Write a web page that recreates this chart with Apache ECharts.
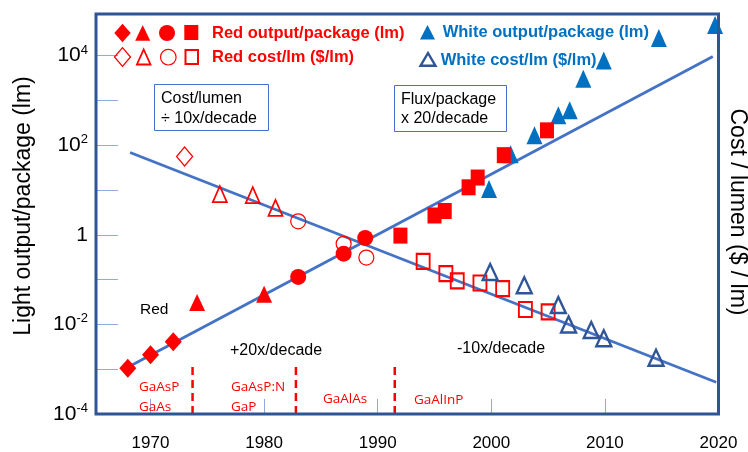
<!DOCTYPE html>
<html>
<head>
<meta charset="utf-8">
<script src="https://cdn.jsdelivr.net/npm/echarts@6/dist/echarts.min.js"></script>
<style>html,body{margin:0;padding:0;background:#fff;}#c{width:748px;height:452px;}</style>
</head>
<body>
<div id="c"></div>
<script>
// ---- data (year, value) ----
const redOutDiamond = [[1968, 0.00105], [1970, 0.0021], [1972, 0.0041]];
const redOutTriangle = [[1974.1, 0.031], [1980.0, 0.047]];
const redOutCircle = [[1983.0, 0.115], [1987.0, 0.38], [1988.9, 0.85]];
const redOutSquare = [[1992.0, 0.96], [1995.0, 2.7], [1995.9, 3.4], [1998.0, 11.5], [1998.8, 19], [2001.1, 60], [2004.9, 215]];

const redCostDiamond = [[1973.0, 56]];
const redCostTriangle = [[1976.1, 8.1], [1979.0, 7.7], [1981.0, 4.0]];
const redCostCircle = [[1983.0, 2.0], [1987.0, 0.63], [1989.0, 0.31]];
const redCostSquare = [[1994.0, 0.255], [1996.0, 0.136], [1997.0, 0.094], [1999.0, 0.084], [2001.0, 0.063], [2003.0, 0.0215], [2005.0, 0.019]];

const whiteOut = [[1999.8, 10.5], [2001.7, 63], [2003.8, 167], [2005.9, 464], [2006.9, 605], [2008.1, 3030], [2009.9, 7740], [2014.75, 24600], [2019.7, 48600]];
const whiteCost = [[1999.9, 0.148], [2002.9, 0.075], [2005.9, 0.027], [2006.8, 0.010], [2008.8, 0.0075], [2009.9, 0.0049], [2014.5, 0.0018]];

const fluxTrend = [[1968.0, 0.0011], [2019.5, 9600]];
const costTrend = [[1968.2, 69], [2019.8, 0.00051]];

const dividerYears = [1973.7, 1982.8, 1991.5];
const dividerTop = 0.00135;
const yMin = 1e-4;
const yMax = 85000;
const xMin = 1965.2;
const xMax = 2020;
const xTickYears = [1970, 1980, 1990, 2000, 2010];
const xLabelYears = [1970, 1980, 1990, 2000, 2010, 2020];

const RED = '#ff0000';
const BLUE = '#0070c0';
const DBLUE = '#2f5597';
const LINE = '#4472c4';
const FONT = '"Liberation Sans", Arial, sans-serif';

const chart = echarts.init(document.getElementById('c'), null, {renderer: 'canvas'});

function scatter(data, symbol, size, fill, stroke, bw, z) {
  return {
    type: 'scatter', data: data, symbol: symbol, symbolSize: size, clip: false, z: z || 5,
    itemStyle: {color: fill, borderColor: stroke, borderWidth: bw, opacity: 1},
    emphasis: {disabled: true}
  };
}

const series = [
  {type: 'line', data: fluxTrend, symbol: 'none', lineStyle: {color: LINE, width: 2.8}, z: 3, silent: true},
  {type: 'line', data: costTrend, symbol: 'none', lineStyle: {color: LINE, width: 2.8}, z: 3, silent: true}
];
dividerYears.forEach(function (yr) {
  series.push({type: 'line', data: [[yr, yMin], [yr, dividerTop]], symbol: 'none', clip: false,
    lineStyle: {color: RED, width: 2.5, type: [8, 5]}, z: 3, silent: true});
});
series.push(
  scatter(redOutDiamond, 'diamond', [17, 19], RED, RED, 0),
  scatter(redOutTriangle, 'triangle', [16, 17], RED, RED, 0),
  scatter(redOutCircle, 'circle', 16, RED, RED, 0),
  scatter(redOutSquare, 'rect', [14, 16], RED, RED, 0),
  scatter(redCostDiamond, 'diamond', [16, 19], 'rgba(0,0,0,0)', RED, 1.3),
  scatter(redCostTriangle, 'triangle', [14, 16], 'rgba(0,0,0,0)', RED, 1.8),
  scatter(redCostCircle, 'circle', 15, 'rgba(0,0,0,0)', RED, 1.2),
  scatter(redCostSquare, 'rect', [13, 15], 'rgba(0,0,0,0)', RED, 2),
  scatter(whiteOut, 'triangle', [16, 18], BLUE, BLUE, 0, 4),
  scatter(whiteCost, 'triangle', [15, 16], 'rgba(0,0,0,0)', DBLUE, 2.4)
);

function txt(x, y, s, opt) {
  return {type: 'text', x: x, y: y, z: 20, style: Object.assign({text: s, fill: '#000', font: '16px ' + FONT, textAlign: 'left', textVerticalAlign: 'middle'}, opt || {})};
}

const graphics = [
  // axis titles
  {type: 'text', x: 24, y: 206, rotation: Math.PI / 2, style: {text: 'Light output/package (lm)', fill: '#000', font: '23px ' + FONT, textAlign: 'center', textVerticalAlign: 'middle'}},
  {type: 'text', x: 737, y: 212, rotation: -Math.PI / 2, style: {text: 'Cost / lumen ($ / lm)', fill: '#000', font: '23px ' + FONT, textAlign: 'center', textVerticalAlign: 'middle'}},
  // legend icons red filled
  {type: 'polygon', z: 20, shape: {points: [[122.5, 23.7], [130.7, 33], [122.5, 42.3], [114.3, 33]]}, style: {fill: RED}},
  {type: 'polygon', z: 20, shape: {points: [[142.7, 25], [150.2, 40.7], [135.2, 40.7]]}, style: {fill: RED}},
  {type: 'circle', z: 20, shape: {cx: 167, cy: 33, r: 8}, style: {fill: RED}},
  {type: 'rect', z: 20, shape: {x: 184.3, y: 25, width: 14, height: 15}, style: {fill: RED}},
  // legend icons red open
  {type: 'polygon', z: 20, shape: {points: [[122.5, 47.7], [130.5, 57], [122.5, 66.3], [114.5, 57]]}, style: {fill: 'none', stroke: RED, lineWidth: 1.3}},
  {type: 'polygon', z: 20, shape: {points: [[143.7, 49.5], [150.5, 64.5], [136.9, 64.5]]}, style: {fill: 'none', stroke: RED, lineWidth: 1.8}},
  {type: 'circle', z: 20, shape: {cx: 168.3, cy: 57.2, r: 7.8}, style: {fill: 'none', stroke: RED, lineWidth: 1.2}},
  {type: 'rect', z: 20, shape: {x: 185.5, y: 50, width: 12.5, height: 14}, style: {fill: 'none', stroke: RED, lineWidth: 2}},
  // legend icons white
  {type: 'polygon', z: 20, shape: {points: [[427.5, 25], [435, 39.5], [420, 39.5]]}, style: {fill: BLUE}},
  {type: 'polygon', z: 20, shape: {points: [[428, 53], [435.5, 65.8], [420.5, 65.8]]}, style: {fill: 'none', stroke: DBLUE, lineWidth: 2.4}},
  txt(212, 33, 'Red output/package (lm)', {fill: RED, font: 'bold 16.5px ' + FONT}),
  txt(212, 57, 'Red cost/lm ($/lm)', {fill: RED, font: 'bold 16.5px ' + FONT}),
  txt(442.7, 32, 'White output/package (lm)', {fill: BLUE, font: 'bold 16.5px ' + FONT}),
  txt(440.7, 60, 'White cost/lm ($/lm)', {fill: BLUE, font: 'bold 16.5px ' + FONT}),
  // boxes
  {type: 'rect', z: 15, shape: {x: 154.5, y: 84.5, width: 114, height: 46}, style: {fill: '#fff', stroke: LINE, lineWidth: 1}},
  txt(161, 99, 'Cost/lumen'),
  txt(161, 119, '\u00f7 10x/decade'),
  {type: 'rect', z: 15, shape: {x: 394.5, y: 85.5, width: 112, height: 46}, style: {fill: '#fff', stroke: LINE, lineWidth: 1}},
  txt(401, 100, 'Flux/package'),
  txt(401, 119, 'x 20/decade'),
  // annotations
  txt(140, 310, 'Red', {font: '15.5px ' + FONT}),
  txt(230, 351, '+20x/decade'),
  txt(457, 349, '-10x/decade'),
  txt(139, 387, 'GaAsP', {fill: RED, font: '13.5px "Open Sans", sans-serif'}),
  txt(139, 407, 'GaAs', {fill: RED, font: '13.5px "Open Sans", sans-serif'}),
  txt(231, 387, 'GaAsP:N', {fill: RED, font: '13.5px "Open Sans", sans-serif'}),
  txt(231, 407, 'GaP', {fill: RED, font: '13.5px "Open Sans", sans-serif'}),
  txt(323, 399, 'GaAlAs', {fill: RED, font: '13.5px "Open Sans", sans-serif'}),
  txt(414, 400, 'GaAlInP', {fill: RED, font: '13.5px "Open Sans", sans-serif'})
];

const option = {
  backgroundColor: '#fff',
  animation: false,
  grid: {left: 96, right: 29.5, top: 14, bottom: 35, show: true, borderColor: DBLUE, borderWidth: 3, backgroundColor: 'transparent', z: 10},
  xAxis: {
    type: 'value', min: xMin, max: xMax,
    axisLine: {show: false},
    splitLine: {show: false},
    axisTick: {show: true, inside: true, length: 15, customValues: xTickYears, lineStyle: {color: '#8faadc', width: 1}},
    axisLabel: {customValues: xLabelYears, margin: 21, fontSize: 17, color: '#000', fontFamily: FONT, formatter: function (v) { return String(Math.round(v)); }}
  },
  yAxis: {
    type: 'log', logBase: 10, min: yMin, max: yMax,
    axisLine: {show: false},
    splitLine: {show: false},
    minorTick: {show: false},
    axisTick: {show: true, inside: true, length: 22, lineStyle: {color: '#8faadc', width: 1}},
    axisLabel: {
      margin: 8, color: '#000', fontFamily: FONT, fontSize: 20,
      formatter: function (v) {
        const l = Math.log10(v);
        const e = Math.round(l);
        if (Math.abs(l - e) > 1e-6 || e % 2 !== 0) return '';
        if (e === 0) return '{b|1}';
        return '{b|10}{s|' + e + '}';
      },
      rich: {
        b: {fontSize: 21, fontFamily: FONT, color: '#000', lineHeight: 24},
        s: {fontSize: 13, fontFamily: FONT, color: '#000', verticalAlign: 'top', lineHeight: 14}
      }
    }
  },
  series: series,
  graphic: graphics
};
chart.setOption(option);
</script>
</body>
</html>
